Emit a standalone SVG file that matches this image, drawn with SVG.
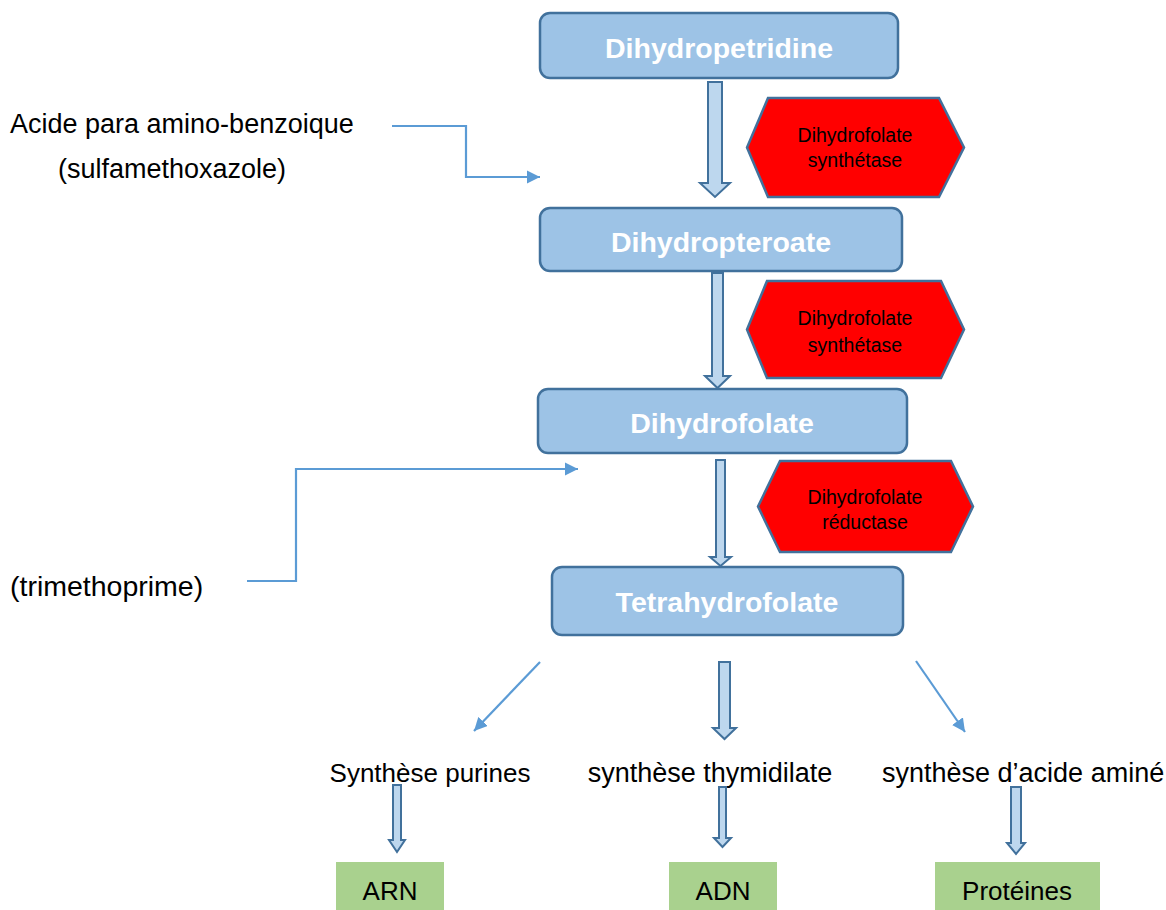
<svg xmlns="http://www.w3.org/2000/svg" width="1166" height="910" viewBox="0 0 1166 910">
<style>
.box{fill:#9dc3e6;stroke:#41719c;stroke-width:2.5}
.bt{font-family:"Liberation Sans",Arial,sans-serif;font-weight:bold;font-size:28.5px;fill:#ffffff;text-anchor:middle}
.hex{fill:#ff0000;stroke:#41719c;stroke-width:2.5}
.ht{font-family:"Liberation Sans",Arial,sans-serif;font-size:19.5px;fill:#000000;text-anchor:middle}
.blk{fill:#bdd7ee;stroke:#41719c;stroke-width:2}
.thin{fill:none;stroke:#5b9bd5;stroke-width:2.2}
.lbl{font-family:"Liberation Sans",Arial,sans-serif;font-size:26px;fill:#000000}
.lbl27{font-size:27px}
.lbl28{font-size:28.5px}
.grn{fill:#a9d18e}
</style>
<defs>
<marker id="ah" viewBox="0 0 10 10" refX="10" refY="5" markerWidth="6" markerHeight="6" markerUnits="strokeWidth" orient="auto">
<path d="M0,0 L10,5 L0,10 Z" fill="#5b9bd5"/>
</marker>
</defs>

<g id="node-dihydropetridine">
<rect class="box" x="540" y="13" width="358" height="65" rx="10"/>
<text class="bt" x="719" y="58">Dihydropetridine</text>
</g>
<g id="node-dihydropteroate">
<rect class="box" x="540" y="208" width="362" height="63" rx="10"/>
<text class="bt" x="721" y="252">Dihydropteroate</text>
</g>
<g id="node-dihydrofolate">
<rect class="box" x="538" y="389" width="369" height="64" rx="10"/>
<text class="bt" x="722" y="433">Dihydrofolate</text>
</g>
<g id="node-tetrahydrofolate">
<rect class="box" x="552" y="567" width="351" height="68" rx="10"/>
<text class="bt" x="727" y="612">Tetrahydrofolate</text>
</g>

<g id="node-enzyme1">
<polygon class="hex" points="768,98 939,98 964,147.5 939,197 768,197 747,147.5"/>
<text class="ht" x="855" y="142">Dihydrofolate</text>
<text class="ht" x="855" y="167">synthétase</text>
</g>
<g id="node-enzyme2">
<polygon class="hex" points="767,281 941,281 964,329.5 941,378 767,378 747,329.5"/>
<text class="ht" x="855" y="325">Dihydrofolate</text>
<text class="ht" x="855" y="352">synthétase</text>
</g>
<g id="node-enzyme3">
<polygon class="hex" points="780,461 951,461 973,506.5 951,552 780,552 758,506.5"/>
<text class="ht" x="865" y="504">Dihydrofolate</text>
<text class="ht" x="865" y="529">réductase</text>
</g>

<g id="node-apab">
<text class="lbl lbl27" x="10" y="133">Acide para amino-benzoique</text>
<text class="lbl lbl27" x="58" y="178">(sulfamethoxazole)</text>
</g>
<g id="node-trimethoprime">
<text class="lbl lbl28" x="10" y="596">(trimethoprime)</text>
</g>

<g id="node-purines">
<text class="lbl" x="430" y="782" text-anchor="middle">Synthèse purines</text>
</g>
<g id="node-thymidilate">
<text class="lbl lbl27" x="710" y="782" text-anchor="middle">synthèse thymidilate</text>
</g>
<g id="node-acide-amine">
<text class="lbl lbl27" x="882" y="782">synthèse d’acide aminé</text>
</g>

<g id="node-arn">
<rect class="grn" x="336" y="862" width="108" height="50"/>
<text class="lbl" x="390" y="900" text-anchor="middle">ARN</text>
</g>
<g id="node-adn">
<rect class="grn" x="669" y="862" width="108" height="50"/>
<text class="lbl" x="723" y="900" text-anchor="middle">ADN</text>
</g>
<g id="node-proteines">
<rect class="grn" x="935" y="862" width="165" height="50"/>
<text class="lbl" x="1017" y="900" text-anchor="middle">Protéines</text>
</g>

<g id="connectors">
<polygon class="blk" points="708,82 722,82 722,183 730,183 715,197 700,183 708,183"/>
<polygon class="blk" points="712,273 723,273 723,376 730,376 717.5,388 705,376 712,376"/>
<polygon class="blk" points="716,460 725,460 725,557 731,557 720.5,566 710,557 716,557"/>
<polygon class="blk" points="719,662 730,662 730,728 736,728 724.5,739 713,728 719,728"/>
<polygon class="blk" points="393,785 401,785 401,840 405,840 397,852 389,840 393,840"/>
<polygon class="blk" points="719,787 726,787 726,838 731,838 722.5,847 714,838 719,838"/>
<polygon class="blk" points="1011,787 1021,787 1021,843 1025,843 1016,854 1007,843 1011,843"/>

<polyline class="thin" points="392,126 466,126 466,177 540,177" marker-end="url(#ah)"/>
<polyline class="thin" points="247,581 296,581 296,469 578,469" marker-end="url(#ah)"/>
<line class="thin" x1="540" y1="662" x2="474" y2="731" marker-end="url(#ah)"/>
<line class="thin" x1="916" y1="661" x2="965" y2="732" marker-end="url(#ah)"/>
</g>
</svg>
